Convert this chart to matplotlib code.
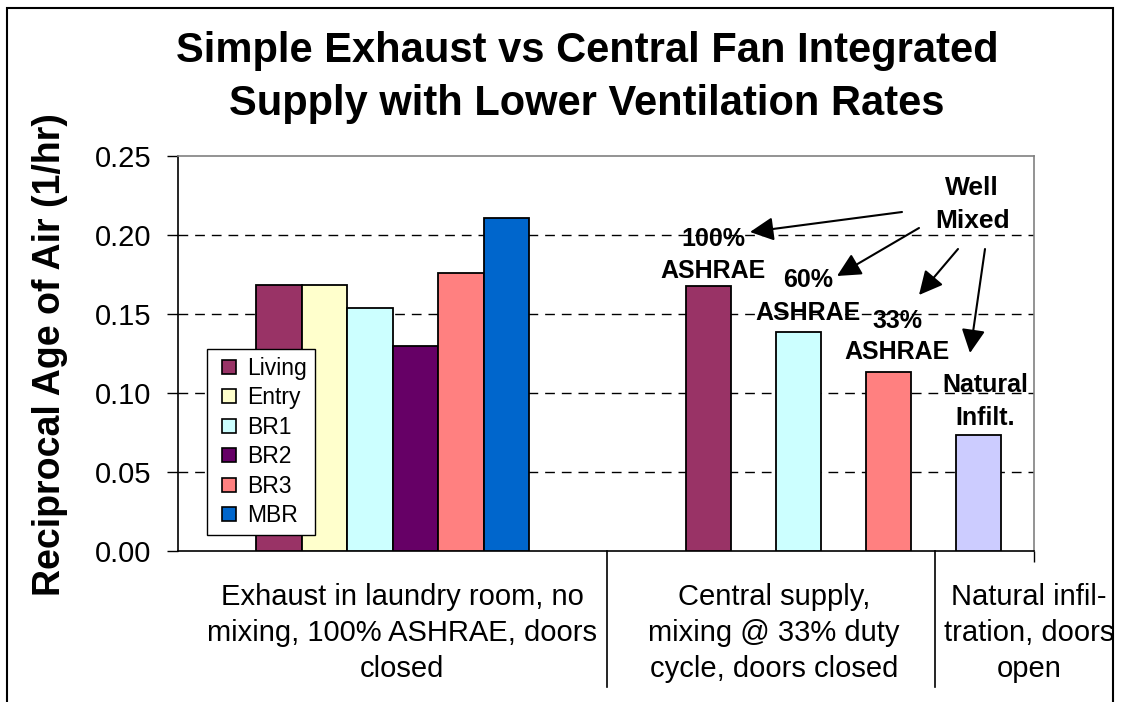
import matplotlib
matplotlib.use("Agg")
import matplotlib.pyplot as plt
import matplotlib.transforms as mtransforms
from matplotlib.lines import Line2D
from matplotlib.patches import Rectangle
import numpy as np

plt.rcParams['font.family'] = ['Liberation Sans', 'DejaVu Sans']

# ---------------- data ----------------
title_lines = ["Simple Exhaust vs Central Fan Integrated",
               "Supply with Lower Ventilation Rates"]
y_label = "Reciprocal Age of Air (1/hr)"

rooms = ["Living", "Entry", "BR1", "BR2", "BR3", "MBR"]
exhaust_values = [0.1685, 0.1685, 0.154, 0.130, 0.176, 0.2105]
room_colors = ["#993366", "#FFFFCC", "#CCFFFF", "#660066", "#FF8080", "#0066CC"]

mixed_labels = [["100%", "ASHRAE"], ["60%", "ASHRAE"], ["33%", "ASHRAE"],
                ["Natural", "Infilt."]]
mixed_values = [0.1675, 0.1388, 0.1133, 0.0735]
mixed_colors = ["#993366", "#CCFFFF", "#FF8080", "#CCCCFF"]

callout = ["Well", "Mixed"]

category_labels = [
    ["Exhaust in laundry room, no", "mixing, 100% ASHRAE, doors", "closed"],
    ["Central supply,", "mixing @ 33% duty", "cycle, doors closed"],
    ["Natural infil-", "tration, doors", "open"],
]
y_ticks = [0.00, 0.05, 0.10, 0.15, 0.20, 0.25]

# ---------------- layout ----------------
W, H = 1122, 702
fig = plt.figure(figsize=(W / 100, H / 100), dpi=100)


def fx(px):
    return px / W


def fy(py):
    return 1 - py / H


AX_L, AX_R, AX_T, AX_B = 178, 1034, 156, 551
ax = fig.add_axes([fx(AX_L), fy(AX_B), (AX_R - AX_L) / W, (AX_B - AX_T) / H])

BAR = 45.5                                  # px per bar width
X_MAX = (AX_R - AX_L) / BAR
g1_x = (256 - AX_L) / BAR + 0.5 + np.arange(len(rooms))
g2_x = (708.5 - AX_L) / BAR + (90 / BAR) * np.arange(len(mixed_values))
dividers = [(607 - AX_L) / BAR, (935 - AX_L) / BAR]

ax.set_xlim(0, X_MAX)
ax.set_ylim(0, 0.25)

# grid
for yv in y_ticks[1:-1]:
    ax.axhline(yv, color="black", lw=1, ls=(0, (7, 5)), zorder=1)

ax.bar(g1_x, exhaust_values, width=1.0, color=room_colors,
       edgecolor="black", linewidth=1.3, zorder=3)
ax.bar(g2_x, mixed_values, width=1.0, color=mixed_colors,
       edgecolor="black", linewidth=1.3, zorder=3)

# spines
for s in ["top", "right"]:
    ax.spines[s].set_color("#808080")
    ax.spines[s].set_linewidth(1.2)
for s in ["left", "bottom"]:
    ax.spines[s].set_color("black")
    ax.spines[s].set_linewidth(1.2)

ax.set_yticks(y_ticks)
ax.set_yticklabels([f"{v:.2f}" for v in y_ticks])
ax.tick_params(axis="y", direction="out", length=8, width=1, labelsize=21,
               pad=11, colors="black")
ax.set_xticks([X_MAX])
ax.set_xticklabels([""])
ax.tick_params(axis="x", direction="out", length=8, width=1)

# long category dividers
blend = mtransforms.blended_transform_factory(ax.transData, ax.transAxes)
for d in dividers:
    ax.plot([d, d], [0, -(687 - AX_B) / (AX_B - AX_T)], transform=blend,
            color="black", lw=1.2, clip_on=False)

# category labels
cat_cx = [402, 774, 1029]
cat_base = [605, 641, 677]
for cx, lines in zip(cat_cx, category_labels):
    for by, line in zip(cat_base, lines):
        fig.text(fx(cx), fy(by), line, ha="center", va="baseline", fontsize=21)

# legend
handles = [Line2D([], [], marker="s", ls="none", markersize=9.5,
                  markerfacecolor=c, markeredgecolor="black",
                  markeredgewidth=1.2) for c in room_colors]
leg = ax.legend(handles, rooms, loc="upper left",
                bbox_to_anchor=(fx(207), fy(349)),
                bbox_transform=fig.transFigure, frameon=True, fancybox=False,
                edgecolor="black", framealpha=1, fontsize=16.5,
                borderpad=0.35, handlelength=1.25, handletextpad=0.15,
                labelspacing=0.28, borderaxespad=0)
leg.get_frame().set_linewidth(1)
leg.set_zorder(5)

# title
for by, line in zip([62, 115], title_lines):
    fig.text(fx(587), fy(by), line, ha="center", va="baseline",
             fontsize=30, fontweight="bold")

# y label
fig.text(fx(50), fy(355), y_label, rotation=90, ha="center", va="center",
         fontsize=27, fontweight="bold")

# bar annotations
ann_pos = [(713, 246, 278), (808, 287, 320), (897, 328, 359), (985, 392, 425)]
for (cx, b1, b2), (l1, l2) in zip(ann_pos, mixed_labels):
    fig.text(fx(cx), fy(b1), l1, ha="center", va="baseline", fontsize=18,
             fontweight="bold")
    fig.text(fx(cx), fy(b2), l2, ha="center", va="baseline", fontsize=18,
             fontweight="bold")

fig.text(fx(972), fy(195), callout[0], ha="center", va="baseline",
         fontsize=19, fontweight="bold")
fig.text(fx(973), fy(228), callout[1], ha="center", va="baseline",
         fontsize=19, fontweight="bold")

arrows = [((902, 212), (750, 232)), ((919, 228), (837, 276)),
          ((958, 249), (919, 295)), ((985, 249), (970, 353))]
for (tx, ty), (hx, hy) in arrows:
    ax.annotate("", xy=(fx(hx), fy(hy)), xycoords="figure fraction",
                xytext=(fx(tx), fy(ty)), textcoords="figure fraction",
                arrowprops=dict(arrowstyle="-|>", color="black", lw=1.5,
                                mutation_scale=36, shrinkA=0, shrinkB=0),
                annotation_clip=False)

# outer chart border
fig.add_artist(Rectangle((fx(7), fy(760)), fx(1113) - fx(7), fy(8) - fy(760),
                         transform=fig.transFigure, fill=False,
                         edgecolor="black", lw=1.5, clip_on=False))

fig.savefig("out.png", dpi=100)
